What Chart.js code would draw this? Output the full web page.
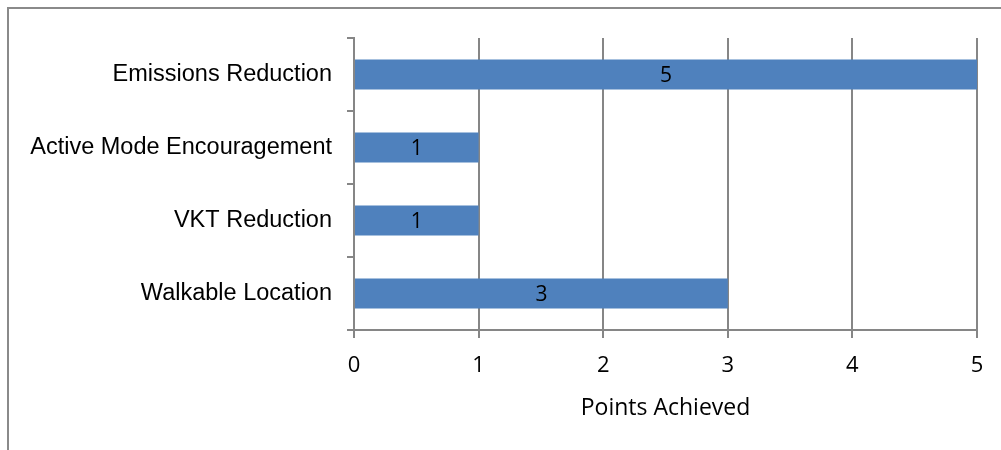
<!DOCTYPE html>
<html><head><meta charset="utf-8">
<script src="https://cdn.jsdelivr.net/npm/chart.js@4.4.1/dist/chart.umd.min.js"></script>
<style>
html,body{margin:0;padding:0;background:#fff;overflow:hidden;}
#wrap{position:absolute;left:0;top:0;width:1001px;height:450px;}
#frame{position:absolute;left:7px;top:7px;width:1200px;height:600px;border:2px solid #8a8a8a;box-sizing:border-box;}
canvas{position:absolute;left:0;top:0;}
</style></head>
<body>
<div id="wrap"><div id="frame"></div><canvas id="c" width="1001" height="450"></canvas></div>
<script>
const categories = ["Emissions Reduction", "Active Mode Encouragement", "VKT Reduction", "Walkable Location"];
const points = [5, 1, 1, 3];
const xTicks = [0, 1, 2, 3, 4, 5];
const axisTitle = "Points Achieved";

const gridGray = "#868686";
const calibri = "'Open Sans', Lato, sans-serif";

const labelPlugin = {
  id: "barLabels",
  afterDatasetsDraw(chart) {
    const ctx = chart.ctx;
    const meta = chart.getDatasetMeta(0);
    ctx.save();
    ctx.font = "21px " + calibri;
    ctx.fillStyle = "#000";
    ctx.textAlign = "center";
    ctx.textBaseline = "middle";
    meta.data.forEach((bar, i) => {
      const cx = (bar.x + bar.base) / 2;
      ctx.fillText(String(points[i]), cx, bar.y + 2);
    });
    ctx.restore();
  }
};

new Chart(document.getElementById("c"), {
  type: "bar",
  data: {
    labels: categories,
    datasets: [{
      data: points,
      backgroundColor: "#4F81BD",
      borderWidth: 0,
      categoryPercentage: 1,
      barPercentage: 0.41
    }]
  },
  options: {
    indexAxis: "y",
    responsive: false,
    animation: false,
    devicePixelRatio: 1,
    layout: { padding: { top: 38, right: 24, left: 0, bottom: 28 } },
    plugins: { legend: { display: false }, tooltip: { enabled: false } },
    scales: {
      x: {
        min: 0, max: 5,
        afterBuildTicks(scale) { scale.ticks = xTicks.map(v => ({ value: v })); },
        afterFit(scale) { scale.height = 92; },
        grid: { color: gridGray, lineWidth: 2, tickLength: 8, drawOnChartArea: true },
        border: { color: gridGray, width: 2 },
        ticks: { color: "#000", font: { family: calibri, size: 22 }, padding: 15 },
        title: { display: true, text: axisTitle, color: "#000", font: { family: calibri, size: 23 }, padding: { top: 0, bottom: 0 } }
      },
      y: {
        afterFit(scale) { scale.width = 354; },
        grid: { offset: true, color: gridGray, lineWidth: 2, tickLength: 7, drawOnChartArea: false },
        border: { color: gridGray, width: 2 },
        ticks: { color: "#000", font: { family: "'Liberation Sans', Arial, sans-serif", size: 23.5 }, padding: 15 }
      }
    }
  },
  plugins: [labelPlugin]
});
</script>
</body></html>
